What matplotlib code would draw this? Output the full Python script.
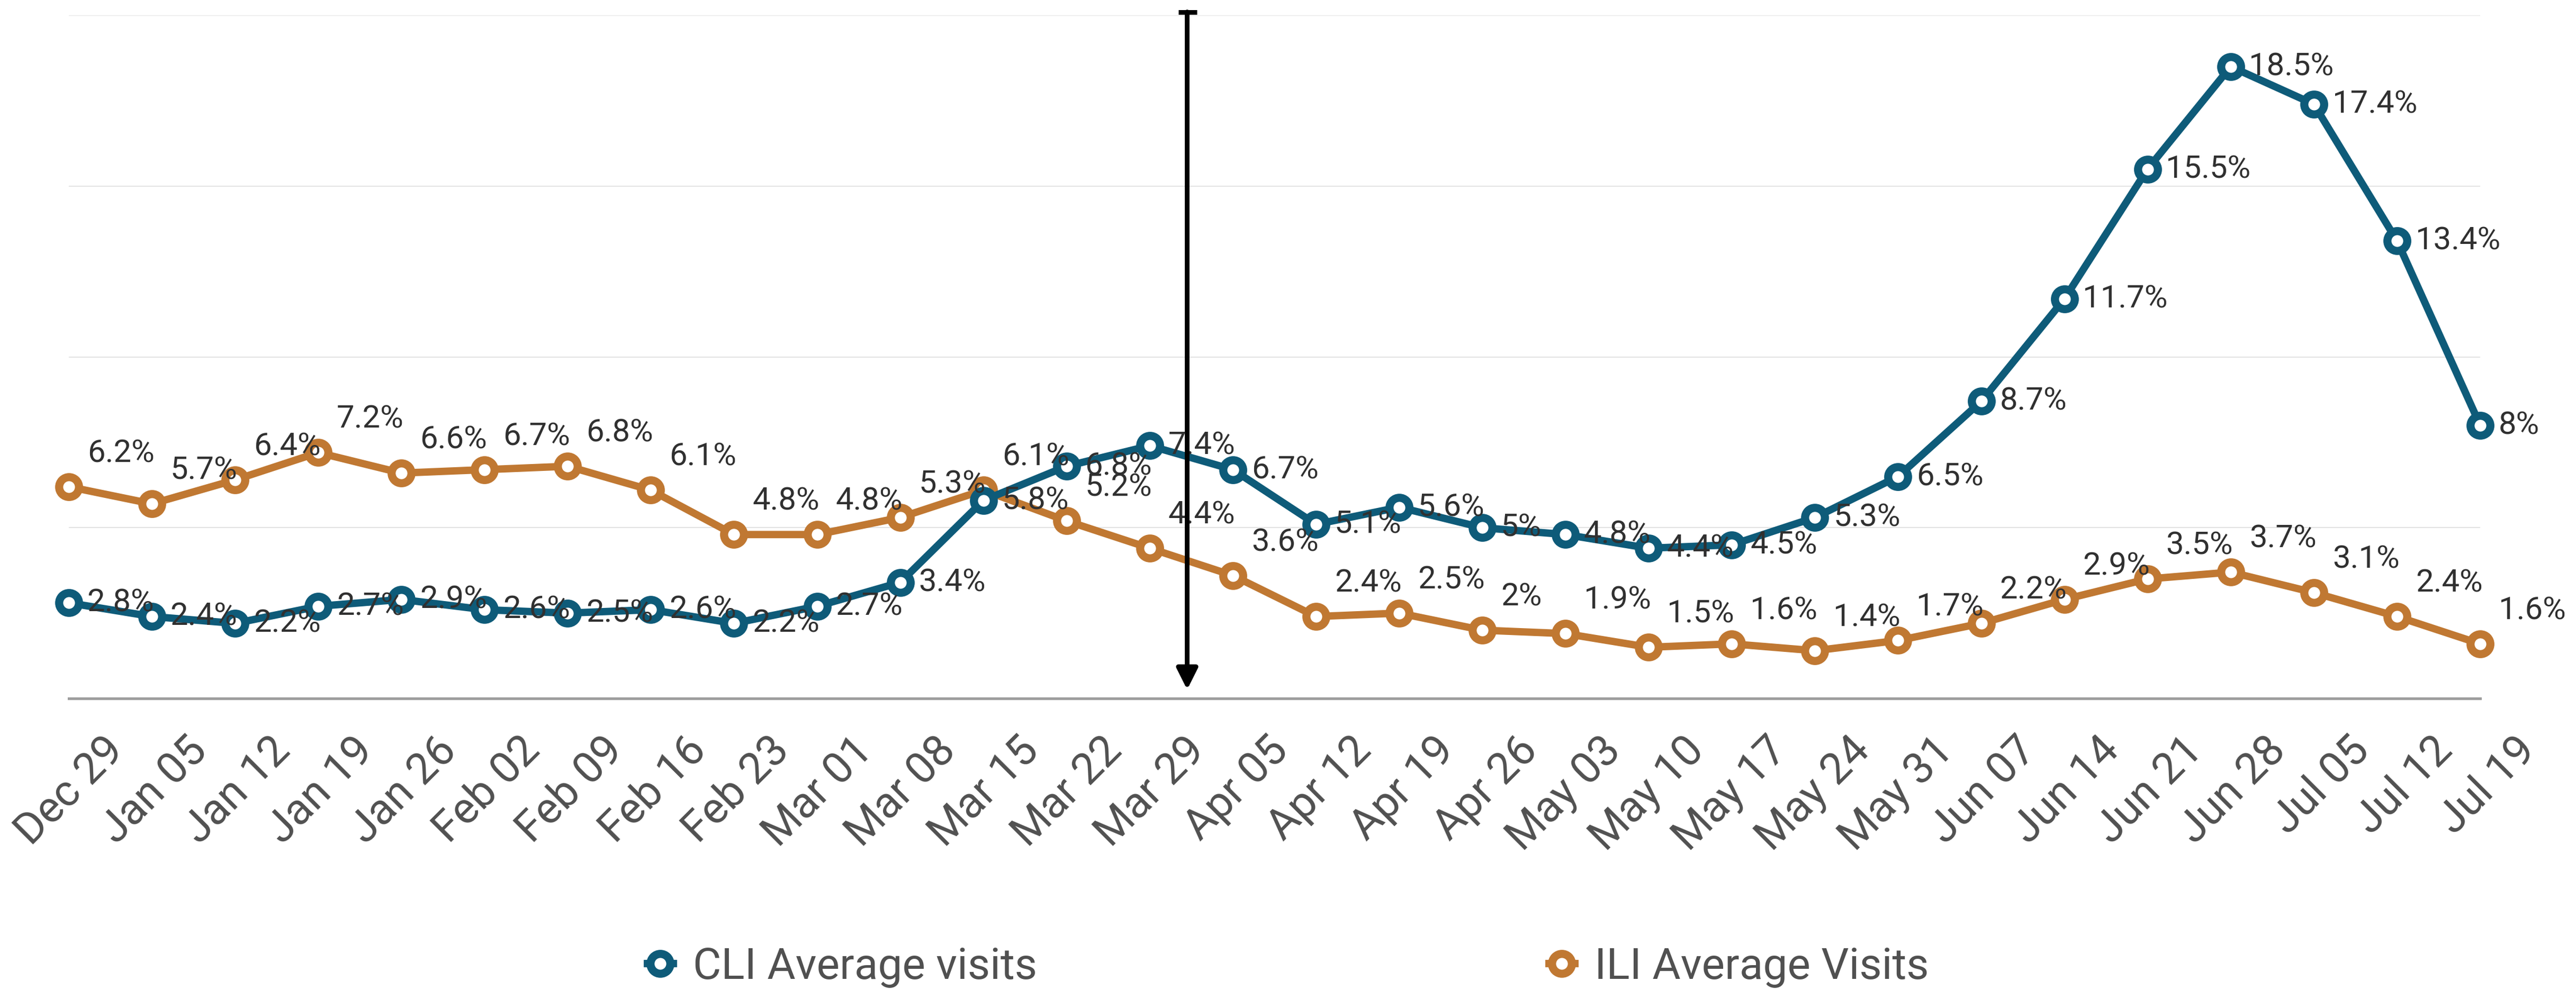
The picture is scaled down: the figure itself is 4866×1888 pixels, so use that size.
import matplotlib
matplotlib.use("Agg")
import matplotlib.pyplot as plt
from matplotlib.lines import Line2D
from matplotlib.transforms import ScaledTranslation

# weekly data (percent of visits)
weeks = ["Dec 29", "Jan 05", "Jan 12", "Jan 19", "Jan 26", "Feb 02", "Feb 09",
         "Feb 16", "Feb 23", "Mar 01", "Mar 08", "Mar 15", "Mar 22", "Mar 29",
         "Apr 05", "Apr 12", "Apr 19", "Apr 26", "May 03", "May 10", "May 17",
         "May 24", "May 31", "Jun 07", "Jun 14", "Jun 21", "Jun 28", "Jul 05",
         "Jul 12", "Jul 19"]
cli_visits = [2.8, 2.4, 2.2, 2.7, 2.9, 2.6, 2.5, 2.6, 2.2, 2.7, 3.4, 5.8, 6.8, 7.4,
              6.7, 5.1, 5.6, 5, 4.8, 4.4, 4.5, 5.3, 6.5, 8.7, 11.7, 15.5, 18.5,
              17.4, 13.4, 8]
ili_visits = [6.2, 5.7, 6.4, 7.2, 6.6, 6.7, 6.8, 6.1, 4.8, 4.8, 5.3, 6.1, 5.2, 4.4,
              3.6, 2.4, 2.5, 2, 1.9, 1.5, 1.6, 1.4, 1.7, 2.2, 2.9, 3.5, 3.7, 3.1,
              2.4, 1.6]
series_names = ["CLI Average visits", "ILI Average Visits"]

CLI_COLOR = "#0e5b79"
ILI_COLOR = "#c07832"
TEXT_COLOR = "#303030"
TICK_COLOR = "#505050"
EVENT_X = 13.45  # position of the vertical marker arrow

plt.rcParams['font.family'] = ['Roboto', 'DejaVu Sans']

fig = plt.figure(figsize=(24.33, 9.44), dpi=200)
ax = fig.add_axes([0.0267, 0.3008, 0.9361, 0.6838])

x = list(range(len(weeks)))
line_kw = dict(lw=5, marker='o', ms=13.5, mew=5.5, mfc='white', clip_on=False)

ax.plot(x, ili_visits, color=ILI_COLOR, mec=ILI_COLOR, zorder=3, **line_kw)
ax.plot(x, cli_visits, color=CLI_COLOR, mec=CLI_COLOR, zorder=4, **line_kw)

for i, v in enumerate(ili_visits):
    ax.annotate(f"{v:g}%", (i, v), xytext=(12.6, 22.7), textcoords='offset points',
                ha='left', va='center', fontsize=21.5, color=TEXT_COLOR,
                zorder=5, annotation_clip=False)
for i, v in enumerate(cli_visits):
    ax.annotate(f"{v:g}%", (i, v), xytext=(12.5, 0), textcoords='offset points',
                ha='left', va='center', fontsize=21.5, color=TEXT_COLOR,
                zorder=5, annotation_clip=False)

# event arrow
ax.annotate('', xy=(EVENT_X, 0.26), xytext=(EVENT_X, 20.1),
            arrowprops=dict(arrowstyle='-|>', color='black', lw=3.2,
                            mutation_scale=30, shrinkA=0, shrinkB=0),
            annotation_clip=False, zorder=6)
ax.plot([EVENT_X], [20.1], marker='_', ms=12.6, mew=3.2, color='black',
        clip_on=False, zorder=6)

ax.set_xlim(0, len(weeks) - 1)
ax.set_ylim(0, 20)
ax.set_yticks([5, 10, 15, 20])
ax.yaxis.grid(True, color='#e3e3e3', lw=0.7)
ax.set_axisbelow(True)
ax.tick_params(axis='y', length=0, labelleft=False)
for s in ['top', 'right', 'left']:
    ax.spines[s].set_visible(False)
ax.spines['bottom'].set_color('#9e9e9e')
ax.spines['bottom'].set_linewidth(1.8)

ax.set_xticks(x)
ax.set_xticklabels(weeks, rotation=45, ha='right', va='center',
                   rotation_mode='anchor', fontsize=29.5, color=TICK_COLOR)
ax.tick_params(axis='x', length=0, pad=31)
shift = ScaledTranslation(92 / 200, 0, fig.dpi_scale_trans)
for lbl in ax.get_xticklabels():
    lbl.set_transform(lbl.get_transform() + shift)

handles = [Line2D([], [], color=c, mec=c, lw=5, marker='o', ms=13.5, mew=5.5, mfc='white')
           for c in (CLI_COLOR, ILI_COLOR)]
fig.legend(handles, series_names, loc='center', bbox_to_anchor=(0.5, 0.032), ncol=2,
           frameon=False, fontsize=29.5, handlelength=0.6, handletextpad=0.45,
           columnspacing=11.8, labelcolor=TICK_COLOR)

fig.savefig("out.png", dpi=200)
